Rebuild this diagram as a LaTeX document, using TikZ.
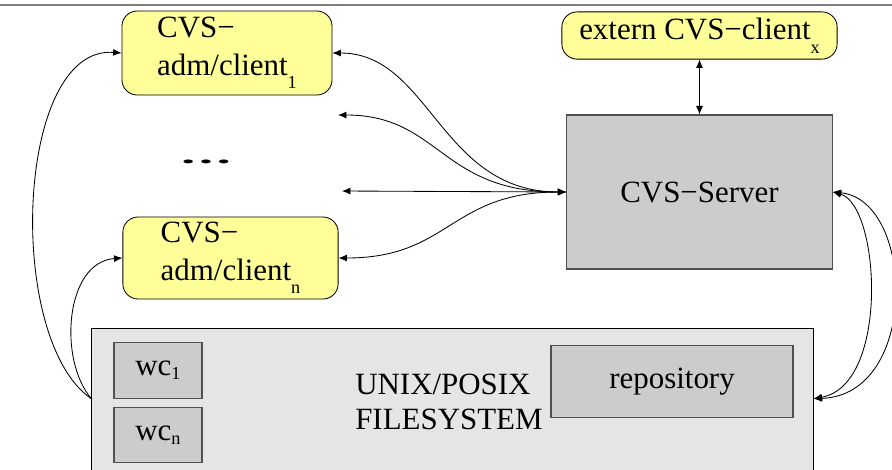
\documentclass[tikz,border=0pt]{standalone}
\usepackage{fontspec}
\setmainfont{Liberation Serif}
\usepackage{xcolor}
\usetikzlibrary{arrows.meta, positioning, calc}

\definecolor{clientyellow}{RGB}{255,255,153}
\definecolor{servergray}{RGB}{204,204,204}
\definecolor{fsgray}{RGB}{229,229,229}
\definecolor{edgegray}{RGB}{80,80,80}
\newcommand{\lowidx}[2]{\raisebox{-#1}{\fontsize{13}{13}\selectfont #2}}

\begin{document}
\begin{tikzpicture}[
    x=0.025cm, y=-0.025cm,
    client/.style={rectangle, rounded corners=0.38cm, draw=black, line width=0.6pt, fill=clientyellow, align=left, font=\fontsize{22}{27}\selectfont},
    server/.style={rectangle, draw=edgegray, line width=0.8pt, fill=servergray, font=\fontsize{22}{27}\selectfont},
    fsbox/.style={rectangle, draw=black, line width=0.6pt, fill=fsgray},
    wcbox/.style={rectangle, draw=edgegray, line width=0.8pt, fill=servergray, minimum width=2.2cm, minimum height=1.38cm, font=\fontsize{22}{27}\selectfont},
    arr/.style={<->, >={Latex[length=6pt,width=5pt]}, line width=0.6pt},
    uarr/.style={->, >={Latex[length=6pt,width=5pt]}, line width=0.6pt}
]
\clip (0,0) rectangle (892,469);
\fill[white] (0,0) rectangle (892,469);
\draw[gray, line width=1.4pt] (0,5) -- (892,5);

% Clients
\node[client, minimum width=5.25cm, minimum height=2.1cm] (client1) at (227,53) {CVS−\\adm/client\lowidx{9pt}{1}};
\node[client, minimum width=5.38cm, minimum height=2.05cm] (clientn) at (230.5,258) {CVS−\\adm/client\lowidx{9pt}{n}};
\node[font=\bfseries\fontsize{17}{20}\selectfont, xscale=2.4] (dots) at (206,162) {.\kern1pt.\kern1pt.};
\node[client, align=center, minimum width=6.88cm, minimum height=1.18cm] (extern) at (699.5,35.5) {extern CVS−client\lowidx{10pt}{x}};

% Server
\node[server, minimum width=6.63cm, minimum height=3.85cm] (server) at (699.5,192) {CVS−Server};

% Filesystem
\node[fsbox, minimum width=18.03cm, minimum height=4.03cm] (fs) at (452.5,409.5) {};
\node[wcbox] (wc1) at (158,370.5) {wc\lowidx{3pt}{1}};
\node[wcbox] (wcn) at (158,435) {wc\lowidx{3pt}{n}};
\node[align=left, anchor=west, inner sep=0pt, font=\fontsize{22}{25}\selectfont] (fslabel) at (355,402) {UNIX/POSIX\\FILESYSTEM};
\node[server, minimum width=6.05cm, minimum height=1.78cm] (repo) at (672,381.5) {repository};

% Free ends
\coordinate (free1) at (338,115);
\coordinate (free2) at (342,191);

% Arrows
\draw[arr] (extern) -- (server);
\draw[arr] (client1.east) .. controls (430,53) and (440,192) .. (server.west);
\draw[arr] (free1) .. controls (440,115) and (440,192) .. (server.west);
\draw[arr] (free2) -- (server.west);
\draw[arr] (clientn.east) .. controls (450,258) and (450,192) .. (server.west);

\draw[uarr] (fs.west |- wc1.south) .. controls (5,340) and (15,45) .. (client1.west);
\draw[uarr] (fs.west |- wc1.south) .. controls (58,360) and (65,262) .. (clientn.west);

\draw[arr] (server.east) .. controls (880,205) and (890,385) .. (fs.east |- wc1.south);
\draw[arr] (server.east) .. controls (915,200) and (920,395) .. (fs.east |- wc1.south);
\end{tikzpicture}
\end{document}
